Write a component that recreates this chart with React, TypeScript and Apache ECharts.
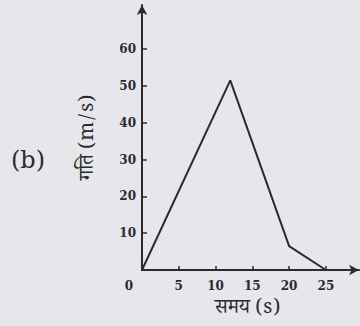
import React, { useEffect, useRef } from "react";
import * as echarts from "echarts";

const timeValues = [0, 12, 20, 25];
const speedValues = [0, 51.5, 6.5, 0];
const xTickLabels = [0, 5, 10, 15, 20, 25];
const yTickLabels = [10, 20, 30, 40, 50, 60];
const xAxisTitle = "समय (s)";
const yAxisTitle = "गति (m/s)";
const panelLabel = "(b)";

const INK = "#2b2b2e";
const BG = "#e7e6eb";
const SERIF = "'DejaVu Serif', 'Liberation Serif', serif";
const DEVA = "'Noto Serif Devanagari', 'Noto Sans Devanagari', 'Lohit Devanagari', 'Liberation Serif', serif";

export default function App() {
  const ref = useRef<HTMLDivElement>(null);
  useEffect(() => {
    if (!ref.current) return;
    const chart = echarts.init(ref.current, undefined, { renderer: "svg" });
    chart.setOption({
      animation: false,
      backgroundColor: BG,
      grid: { left: 142, top: 5, right: 1, bottom: 56, containLabel: false, outerBoundsMode: "none" },
      xAxis: {
        type: "value",
        min: 0,
        max: 29.5,
        interval: 5,
        name: xAxisTitle,
        nameLocation: "middle",
        nameGap: 29,
        nameTextStyle: { fontFamily: DEVA, fontSize: 20, lineHeight: 22, color: INK, padding: [0, 6, 0, 0] },
        axisLine: { show: true, symbol: ["none", "arrow"], symbolSize: [8, 10], lineStyle: { color: INK, width: 2 } },
        axisTick: { show: true, inside: true, length: 4, customValues: xTickLabels.slice(1), lineStyle: { color: INK, width: 1.5 } },
        axisLabel: {
          customValues: xTickLabels,
          margin: 10,
          fontFamily: SERIF,
          fontWeight: "bold",
          fontSize: 12,
          color: INK,
          formatter: (v: number) => (v === 0 ? "{z|0}" : String(v)),
          rich: { z: { padding: [0, 26, 0, 0], fontFamily: SERIF, fontWeight: "bold", fontSize: 12, color: INK } },
        },
        splitLine: { show: false },
      },
      yAxis: {
        type: "value",
        min: 0,
        max: 72,
        interval: 10,
        name: yAxisTitle,
        nameLocation: "middle",
        nameGap: 42,
        nameRotate: 90,
        nameTextStyle: { fontFamily: DEVA, fontSize: 20, color: INK, padding: [0, 0, 0, 0] },
        axisLine: { show: true, symbol: ["none", "arrow"], symbolSize: [8, 10], lineStyle: { color: INK, width: 2 } },
        axisTick: { show: true, inside: true, length: 5, customValues: yTickLabels, lineStyle: { color: INK, width: 1.5 } },
        axisLabel: {
          customValues: yTickLabels,
          margin: 6,
          fontFamily: SERIF,
          fontWeight: "bold",
          fontSize: 12,
          color: INK,
        },
        splitLine: { show: false },
      },
      graphic: [
        {
          type: "text",
          left: 11,
          top: 148,
          style: { text: panelLabel, font: `24px ${SERIF}`, fill: INK },
        },
      ],
      series: [
        {
          type: "line",
          data: timeValues.map((t, i) => [t, speedValues[i]]),
          symbol: "none",
          lineStyle: { color: INK, width: 2 },
        },
      ],
    });
    return () => chart.dispose();
  }, []);
  return <div ref={ref} style={{ position: "fixed", left: 0, top: 0, width: 360, height: 326, background: BG }} />;
}
